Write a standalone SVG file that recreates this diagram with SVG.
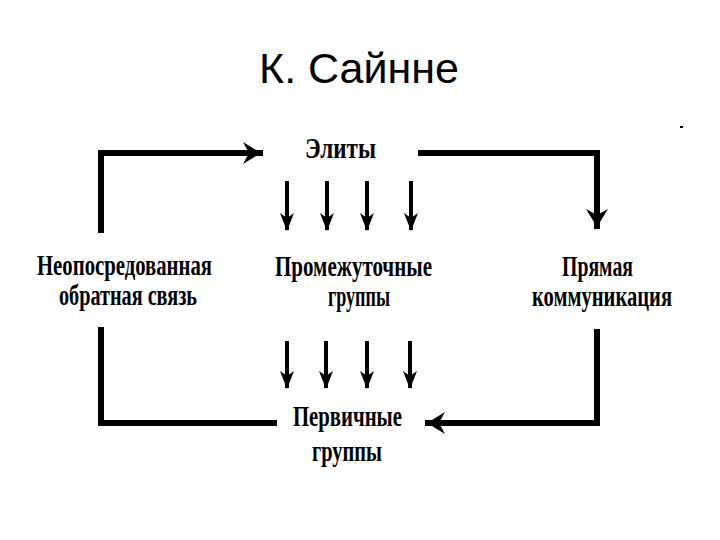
<svg xmlns="http://www.w3.org/2000/svg" width="720" height="540" viewBox="0 0 720 540">
<style>
.title{font-family:"Liberation Sans",Arial,sans-serif;font-size:43px;fill:#000}
.lbl{font-family:"Liberation Serif","Times New Roman",serif;font-size:30px;font-weight:bold;fill:#000}
.big{fill:none;stroke:#000;stroke-width:6;stroke-linecap:square;stroke-linejoin:miter}
.small{fill:none;stroke:#000;stroke-width:4}
</style>
<defs>
<marker id="ah" markerUnits="userSpaceOnUse" viewBox="0 -8 18 16" refX="17" refY="0" markerWidth="18" markerHeight="16" orient="auto">
<path d="M0,-7 L18,0 L0,7 L5,0 z" fill="#000"/>
</marker>
<marker id="ahb" markerUnits="userSpaceOnUse" viewBox="0 -12 18 24" refX="17" refY="0" markerWidth="18" markerHeight="24" orient="auto">
<path d="M0,-11 L18,0 L0,11 L6,0 z" fill="#000"/>
</marker>
</defs>
<rect width="720" height="540" fill="#fff"/>
<text class="title" x="359" y="83" text-anchor="middle">К. Сайнне</text>
<rect x="680" y="126" width="3" height="2" fill="#000"/>
<g id="connectors">
<path class="big" d="M101,230 V153 H260" marker-end="url(#ahb)"/>
<path class="big" d="M421,153 H597 V226" marker-end="url(#ahb)"/>
<path class="big" d="M101,330 V423 H274"/>
<path class="big" d="M597,332 V423 H428" marker-end="url(#ahb)"/>
<line class="small" x1="287" y1="181" x2="287" y2="230" marker-end="url(#ah)"/>
<line class="small" x1="327" y1="181" x2="327" y2="230" marker-end="url(#ah)"/>
<line class="small" x1="367" y1="181" x2="367" y2="230" marker-end="url(#ah)"/>
<line class="small" x1="411" y1="181" x2="411" y2="230" marker-end="url(#ah)"/>
<line class="small" x1="287" y1="341" x2="287" y2="388" marker-end="url(#ah)"/>
<line class="small" x1="326" y1="341" x2="326" y2="388" marker-end="url(#ah)"/>
<line class="small" x1="367" y1="341" x2="367" y2="388" marker-end="url(#ah)"/>
<line class="small" x1="410" y1="341" x2="410" y2="388" marker-end="url(#ah)"/>
</g>
<g id="elites"><text class="lbl" x="305" y="158" textLength="71" lengthAdjust="spacingAndGlyphs">Элиты</text></g>
<g id="feedback">
<text class="lbl" x="37" y="275" textLength="175" lengthAdjust="spacingAndGlyphs">Неопосредованная</text>
<text class="lbl" x="59" y="305" textLength="138" lengthAdjust="spacingAndGlyphs">обратная связь</text>
</g>
<g id="intermediate">
<text class="lbl" x="275" y="276" textLength="157" lengthAdjust="spacingAndGlyphs">Промежуточные</text>
<text class="lbl" x="328" y="306" textLength="62" lengthAdjust="spacingAndGlyphs">группы</text>
</g>
<g id="direct">
<text class="lbl" x="562" y="276" textLength="71" lengthAdjust="spacingAndGlyphs">Прямая</text>
<text class="lbl" x="602" y="306" text-anchor="middle" textLength="140" lengthAdjust="spacingAndGlyphs">коммуникация</text>
</g>
<g id="primary">
<text class="lbl" x="293" y="426" textLength="109" lengthAdjust="spacingAndGlyphs">Первичные</text>
<text class="lbl" x="312" y="461" textLength="70" lengthAdjust="spacingAndGlyphs">группы</text>
</g>
</svg>
